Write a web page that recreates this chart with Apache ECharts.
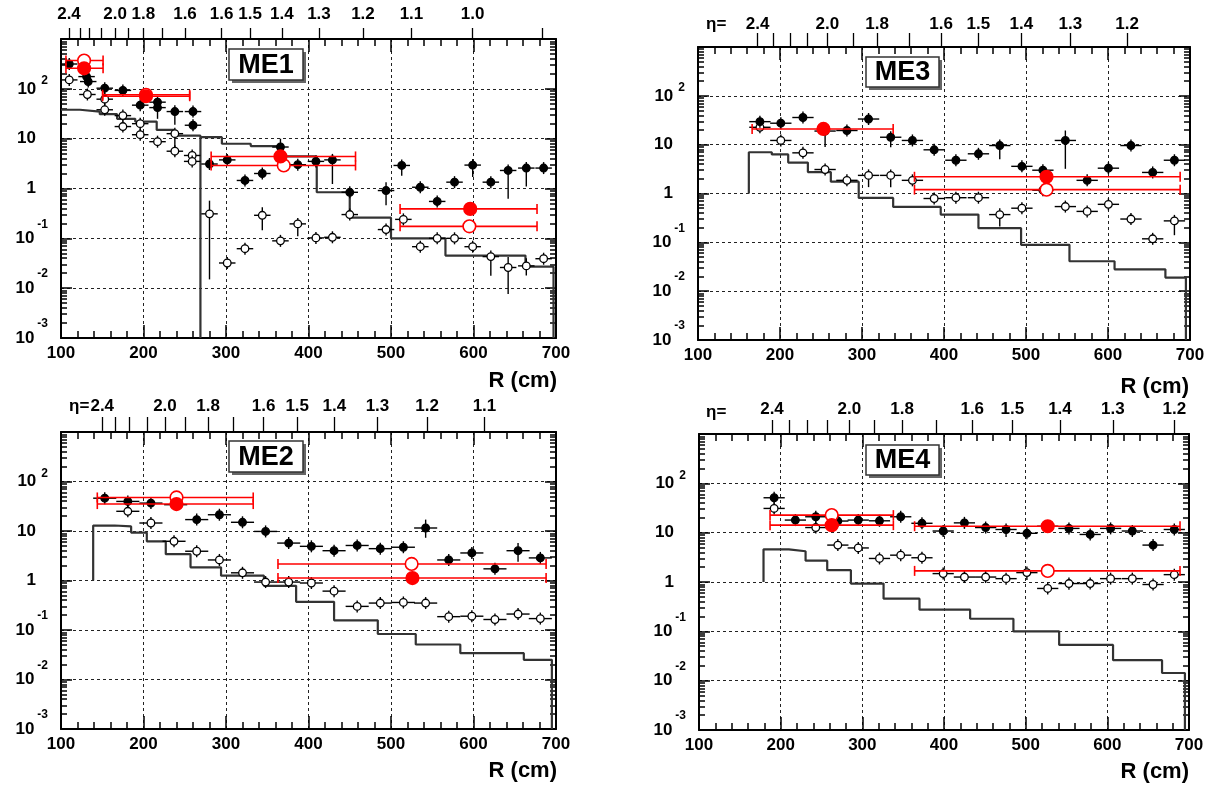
<!DOCTYPE html>
<html><head><meta charset="utf-8">
<script src="https://cdn.jsdelivr.net/npm/echarts@6/dist/echarts.min.js"></script>
<style>html,body{margin:0;padding:0;background:#fff}#c{width:1214px;height:787px}</style>
</head><body><div id="c"></div>
<script>
// ===================== DATA =====================
// points: [R (cm), value, errLow, errHigh]  (0 = no visible error beyond marker)
const xTicks = [100, 200, 300, 400, 500, 600, 700];
const yLabelValues = [0.001, 0.01, 0.1, 1, 10, 100];

// ---- ME1 ----
const ME1_black = [[110,315,0,0],[131,176,130,215],[133,140,0,0],[153,103,0,0],[175,93,0,0],[196,47,0,0],[217,54,0,0],[217,42,25,60],[238,35,19,47],[260,35,0,0],[260,18.6,0,0],[280,3.1,0,0],[301.5,3.75,0,0],[323,1.45,0,0],[344,2.0,0,0],[366,6.8,4.3,10],[387,3.0,0,0],[409,3.5,0,0],[429,3.75,1.23,4.9],[450,0.84,0,0],[494,0.91,0.46,1.34],[513,2.9,1.8,3.6],[535.5,1.06,0,0],[556,0.55,0,0],[577,1.34,0,0],[599,2.95,1.7,3.6],[621,1.34,0,0],[642,2.3,0.62,2.7],[664,2.57,1.1,3.2],[685,2.57,0,0]];
const ME1_open = [[110,151,0,0],[132,77,0,0],[153,62,0,0],[153,38,0,0],[175,29,0,0],[175,17.5,0,0],[196,20,0,0],[196,12,0,0],[217,8.7,0,0],[238,12.6,5.5,16],[238,5.6,0,0],[259,4.6,0,0],[259,3.5,0,0],[280,0.31,0.015,0.57],[301.5,0.032,0,0],[323,0.062,0,0],[344,0.29,0.145,0.42],[366,0.089,0,0],[387,0.195,0.11,0.25],[409,0.102,0,0],[429,0.105,0,0],[450,0.30,0,0],[494,0.15,0,0],[515,0.24,0,0],[535.5,0.068,0,0],[556,0.10,0,0],[577,0.10,0,0],[599,0.068,0,0],[621,0.043,0.0177,0.056],[642,0.026,0.0076,0.042],[664,0.028,0.018,0.04],[685,0.039,0,0]];
// red: [R, value, xLow, xHigh]
const ME1_redFilled = [[128,258,106,151],[203,71,150.5,256],[366,4.4,282,457],[596,0.39,511,677]];
const ME1_redOpen = [[128,370,106,151],[203,76,150.5,256],[370,2.9,282,457],[595,0.174,511,677]];
const ME1_histEdges = [100,123,147,168,190,216,237,269,269.01,295,330,366,410,450,500,566,663,697];
const ME1_histVals = [38,35,31,25,22,15,11.5,0.001,10.7,7.9,7.1,4.4,0.84,0.26,0.10,0.045,0.027];
const ME1_etaR = [109.7,123,134.3,149.3,165.5,181.6,199.8,222.8,250.3,294.6,329.3,367.8,412.7,466,524.8,599,682.8];
const ME1_etaLab = ['2.4','','','','2.0','','1.8','','1.6','1.6','1.5','1.4','1.3','1.2','1.1','1.0',''];

// ---- ME3 ----
const ME3_black = [[175.5,29.6,0,0],[201,27.5,0,0],[228,36,0,0],[255,19,9,21],[281.6,19.5,0,0],[308,33.5,0,0],[335,14.2,8.9,17.8],[361.5,12.2,0,0],[388,7.85,0,0],[414.5,4.8,0,0],[442,6.5,0,0],[468,9.6,5,12.2],[495,3.6,0,0],[520.6,3.0,0,0],[548,12.2,3.2,19.5],[574.6,1.86,0,0],[600.5,3.3,0,0],[628,9.6,0,0],[654.5,2.7,0,0],[681,4.8,0,0]];
const ME3_open = [[175.5,22.7,0,0],[201,12.2,0,0],[228,6.8,0,0],[255,3.1,0,0],[281.6,1.86,0,0],[308,2.35,1.35,2.95],[335,2.35,1.35,2.95],[361.5,1.86,0,0],[388,0.79,0,0],[414.5,0.82,0,0],[442,0.82,0,0],[468,0.37,0.21,0.5],[495,0.50,0,0],[520.6,1.17,0,0],[548,0.54,0,0],[574.6,0.43,0,0],[600.5,0.60,0,0],[628,0.30,0,0],[654.5,0.118,0,0],[681,0.275,0.14,0.34]];
const ME3_redFilled = [[253,21,166,338],[525,2.2,364,688]];
const ME3_redOpen = [[525,1.2,364,688]];
const ME3_histEdges = [162,190,210,234,262,296,338,396,442,494,553,608,670,695];
const ME3_histVals = [7.0,6.3,4.3,2.75,1.75,0.81,0.53,0.37,0.195,0.089,0.041,0.028,0.019];
const ME3_etaR = [172.6,191.6,211.9,233,257.7,288.8,318.4,358,396.4,441.8,494.4,554,623.4];
const ME3_etaLab = ['2.4','','','','2.0','','1.8','','1.6','1.5','1.4','1.3','1.2'];

// ---- ME2 ----
const ME2_black = [[153,46,0,0],[181,39.6,0,0],[209,36.6,0,0],[239,34,0,0],[264.5,17,0,0],[292,21.3,0,0],[320,15,0,0],[348,9.8,0,0],[376,5.7,0,0],[403.5,4.9,0,0],[431,4.0,0,0],[459,5.1,0,0],[487,4.4,0,0],[515,4.7,0,0],[542,11.5,7.3,17],[570,2.6,0,0],[598,3.6,0,0],[626,1.72,0,0],[654,4.0,2.4,5.7],[681,2.86,0,0]];
const ME2_open = [[181,25,0,0],[209,14.5,0,0],[237,6.2,0,0],[264.5,3.9,0,0],[292,2.6,0,0],[320,1.43,0,0],[348,0.93,0,0],[376,0.93,0,0],[403.5,0.89,0,0],[431,0.61,0,0],[459,0.30,0,0],[487,0.35,0,0],[515,0.36,0,0],[542,0.35,0,0],[570,0.186,0,0],[598,0.19,0,0],[626,0.163,0,0],[654,0.21,0,0],[681,0.17,0,0]];
const ME2_redFilled = [[240,35,144,333],[526,1.12,363,688]];
const ME2_redOpen = [[240,47.6,144,333],[525,2.16,363,688]];
const ME2_histEdges = [139,165,185,204,227,257,294,346,385,431,484,530,584,661,695];
const ME2_histVals = [12.9,12.4,9.3,6.2,3.4,1.85,1.25,0.78,0.37,0.157,0.083,0.051,0.034,0.025];
const ME2_etaR = [150,166,182.5,204,226,250.6,278.4,308.5,345.5,386.3,431.3,483.6,543.8,613.3];
const ME2_etaLab = ['2.4','','','','2.0','','1.8','','1.6','1.5','1.4','1.3','1.2','1.1'];

// ---- ME4 ----
const ME4_black = [[192,51,0,0],[218,18,0,0],[243,21,0,0],[270,17.2,0,0],[295,18,0,0],[321,17.4,0,0],[347,21,0,0],[373,15.5,0,0],[399,10.8,0,0],[425,15.8,0,0],[451,12.7,0,0],[476,11.6,8.2,14.3],[501.5,9.7,0,0],[527,13.5,0,0],[553,12.2,0,0],[579,9.2,7,11.5],[604,12.2,0,0],[630.6,10.8,0,0],[656,5.6,0,0],[682,11.6,0,0]];
const ME4_open = [[192,31,0,0],[243,12.7,0,0],[270,5.6,0,0],[295,4.9,0,0],[321,3.0,0,0],[347,3.5,0,0],[373,3.1,0,0],[399,1.48,0,0],[425,1.26,0,0],[451,1.26,0,0],[476,1.17,0,0],[501.5,1.55,1.1,1.9],[527,0.74,0,0],[553,0.93,0.7,1.2],[579,0.93,0,0],[604,1.17,0,0],[630.6,1.17,0,0],[656,0.89,0,0],[682,1.41,0,0]];
const ME4_redFilled = [[262.5,14.2,187,338],[527,13.5,364,689]];
const ME4_redOpen = [[262.5,22.7,187,338],[527,1.68,364,689]];
const ME4_histEdges = [179,210,230.5,257,286,326,370,432,485,541,607,667,695];
const ME4_histVals = [4.6,4.2,2.7,1.74,0.93,0.46,0.275,0.18,0.10,0.053,0.026,0.0143];
const ME4_etaR = [189.4,210,232.4,256.8,284,314,348.6,390,434.6,483.8,542,606.7,682];
const ME4_etaLab = ['2.4','','','','2.0','','1.8','','1.6','1.5','1.4','1.3','1.2'];

// bin half widths (cm) of the black/open points, and histogram baselines
const ME1_binHalf = 10, ME3_binHalf = 13, ME2_binHalf = 14, ME4_binHalf = 13;
const ME1_histBase = null, ME3_histBase = 1, ME2_histBase = 1, ME4_histBase = 1;

// ===================== LAYOUT =====================
const FF = "'Liberation Sans', Arial, Helvetica, sans-serif";
const panels = [
  {name:'ME1', grid:{left:61, top:39, width:495, height:299}, black:ME1_black, open:ME1_open, redF:ME1_redFilled, redO:ME1_redOpen,
   hE:ME1_histEdges, hV:ME1_histVals, hB:ME1_histBase, half:ME1_binHalf, etaR:ME1_etaR, etaLab:ME1_etaLab, etaLen:11, etaMargin:16,
   box:{x:229,y:49,w:74,h:31}, rcm:{x:557,y:381}, eta:null},
  {name:'ME3', grid:{left:698, top:47, width:492, height:293}, black:ME3_black, open:ME3_open, redF:ME3_redFilled, redO:ME3_redOpen,
   hE:ME3_histEdges, hV:ME3_histVals, hB:ME3_histBase, half:ME3_binHalf, etaR:ME3_etaR, etaLab:ME3_etaLab, etaLen:14, etaMargin:14,
   box:{x:866,y:57,w:73,h:30}, rcm:{x:1189,y:387}, eta:{x:706,y:24}},
  {name:'ME2', grid:{left:61, top:432, width:495, height:297}, black:ME2_black, open:ME2_open, redF:ME2_redFilled, redO:ME2_redOpen,
   hE:ME2_histEdges, hV:ME2_histVals, hB:ME2_histBase, half:ME2_binHalf, etaR:ME2_etaR, etaLab:ME2_etaLab, etaLen:15, etaMargin:17,
   box:{x:229,y:441,w:74,h:31}, rcm:{x:557,y:771}, eta:{x:69,y:406}},
  {name:'ME4', grid:{left:699, top:434, width:490, height:296}, black:ME4_black, open:ME4_open, redF:ME4_redFilled, redO:ME4_redOpen,
   hE:ME4_histEdges, hV:ME4_histVals, hB:ME4_histBase, half:ME4_binHalf, etaR:ME4_etaR, etaLab:ME4_etaLab, etaLen:14, etaMargin:16,
   box:{x:866,y:445,w:73,h:30}, rcm:{x:1189,y:772}, eta:{x:706,y:412}}
];

const minorY = [];
for (let k = -3; k <= 2; k++) for (let m = 2; m <= 9; m++) minorY.push(+(m * Math.pow(10, k)).toPrecision(3));
const majorY = [0.001, 0.01, 0.1, 1, 10, 100, 1000];

const lineBlack = {color:'#000', width:1.5};
const grids = [], xAxes = [], yAxes = [], series = [], graphic = [];

function yLabelFmt(v) {
  const e = Math.round(Math.log10(v));
  if (e === 0) return '{b|1}{p| }';
  if (e === 1) return '{b|10}{p| }';
  return '{b|10}' + (e < 0 ? '{n|' + e + '}' : '{s|' + e + '}');
}
const yRich = {
  b:{fontSize:17, fontWeight:'bold', fontFamily:FF, color:'#000'},
  s:{fontSize:12, fontWeight:'bold', fontFamily:FF, color:'#000', verticalAlign:'top', padding:[0,0,16,5]},
  n:{fontSize:12, fontWeight:'bold', fontFamily:FF, color:'#000', verticalAlign:'top', padding:[0,0,28,3]},
  p:{width:12}
};

function pointSeries(data, gi, half, filled) {
  return {
    type:'custom', xAxisIndex:gi*3, yAxisIndex:gi*4, data:data, encode:{x:0, y:1}, clip:true, z:3, silent:true,
    renderItem(params, api) {
      const x = api.value(0), y = api.value(1), lo = api.value(2), hi = api.value(3);
      const c = api.coord([x, y]);
      const l = api.coord([x - half, y]), r = api.coord([x + half, y]);
      let top = c[1] - 6, bot = c[1] + 6;
      if (hi > 0) top = Math.min(top, api.coord([x, hi])[1]);
      if (lo > 0) bot = Math.max(bot, api.coord([x, lo])[1]);
      return {type:'group', children:[
        {type:'line', shape:{x1:l[0], y1:c[1], x2:r[0], y2:c[1]}, style:{stroke:'#000', lineWidth:1.4}},
        {type:'line', shape:{x1:c[0], y1:top, x2:c[0], y2:bot}, style:{stroke:'#000', lineWidth:1.4}},
        {type:'circle', shape:{cx:c[0], cy:c[1], r:3.8}, style:{fill: filled ? '#000' : '#fff', stroke:'#000', lineWidth:1.3}}
      ]};
    }
  };
}
function redSeries(data, gi, filled) {
  return {
    type:'custom', xAxisIndex:gi*3, yAxisIndex:gi*4, data:data, encode:{x:0, y:1}, clip:true, z:4, silent:true,
    renderItem(params, api) {
      const x = api.value(0), y = api.value(1), xl = api.value(2), xh = api.value(3);
      const c = api.coord([x, y]);
      const l = api.coord([xl, y]), r = api.coord([xh, y]);
      const st = {stroke:'#ff0000', lineWidth:1.6};
      return {type:'group', children:[
        {type:'line', shape:{x1:l[0], y1:c[1], x2:r[0], y2:c[1]}, style:st},
        {type:'line', shape:{x1:l[0], y1:c[1]-5, x2:l[0], y2:c[1]+5}, style:st},
        {type:'line', shape:{x1:r[0], y1:c[1]-5, x2:r[0], y2:c[1]+5}, style:st},
        {type:'circle', shape:{cx:c[0], cy:c[1], r:6.3}, style:{fill: filled ? '#ff0000' : '#fff', stroke:'#ff0000', lineWidth:1.6}}
      ]};
    }
  };
}

panels.forEach((p, i) => {
  grids.push(Object.assign({}, p.grid));
  // bottom main axis
  xAxes.push({gridIndex:i, type:'value', position:'bottom', min:100, max:700, interval:100,
    axisLine:{show:true, onZero:false, lineStyle:{color:'#000', width:2}},
    axisTick:{show:true, inside:true, length:13, lineStyle:lineBlack},
    minorTick:{show:true, splitNumber:5, length:7, lineStyle:lineBlack},
    axisLabel:{show:true, margin:7, fontSize:17, fontWeight:'bold', color:'#000', fontFamily:FF},
    splitLine:{show:true, lineStyle:{color:'#222', width:1, type:[3,3]}}});
  // top mirror (frame + inside ticks)
  xAxes.push({gridIndex:i, type:'value', position:'top', min:100, max:700, interval:100,
    axisLine:{show:true, onZero:false, lineStyle:{color:'#000', width:2}},
    axisTick:{show:true, inside:true, length:13, lineStyle:lineBlack},
    minorTick:{show:true, splitNumber:5, length:7, lineStyle:lineBlack},
    axisLabel:{show:false}, splitLine:{show:false}});
  // top eta axis
  const labR = p.etaR.filter((r, k) => p.etaLab[k] !== '');
  xAxes.push({gridIndex:i, type:'value', position:'top', min:100, max:700,
    axisLine:{show:false},
    axisTick:{show:true, inside:false, length:p.etaLen, customValues:p.etaR, lineStyle:{color:'#000', width:1.3}},
    axisLabel:{show:true, customValues:labR, margin:p.etaMargin, fontSize:17, fontWeight:'bold', color:'#000', fontFamily:FF,
      formatter:(v) => { const k = p.etaR.findIndex(r => Math.abs(r - v) < 1e-6); return k >= 0 ? p.etaLab[k] : ''; }},
    splitLine:{show:false}});
  // y axes
  yAxes.push({gridIndex:i, type:'log', position:'left', min:0.001, max:1000,
    axisLine:{show:true, onZero:false, lineStyle:{color:'#000', width:2}},
    axisTick:{show:true, inside:true, length:11, customValues:majorY, lineStyle:lineBlack},
    axisLabel:{show:true, customValues:yLabelValues, margin:13, formatter:yLabelFmt, rich:yRich},
    splitLine:{show:true, lineStyle:{color:'#222', width:1, type:[3,3]}}});
  yAxes.push({gridIndex:i, type:'log', position:'left', min:0.001, max:1000,
    axisLine:{show:false}, axisTick:{show:true, inside:true, length:6, customValues:minorY, lineStyle:lineBlack},
    axisLabel:{show:false}, splitLine:{show:false}});
  yAxes.push({gridIndex:i, type:'log', position:'right', min:0.001, max:1000,
    axisLine:{show:true, onZero:false, lineStyle:{color:'#000', width:2}},
    axisTick:{show:true, inside:true, length:11, customValues:majorY, lineStyle:lineBlack},
    axisLabel:{show:false}, splitLine:{show:false}});
  yAxes.push({gridIndex:i, type:'log', position:'right', min:0.001, max:1000,
    axisLine:{show:false}, axisTick:{show:true, inside:true, length:6, customValues:minorY, lineStyle:lineBlack},
    axisLabel:{show:false}, splitLine:{show:false}});

  // histogram (step line built from bin edges / contents)
  const pts = [];
  if (p.hB !== null) pts.push([p.hE[0], p.hB]);
  for (let k = 0; k < p.hV.length; k++) { pts.push([p.hE[k], p.hV[k]]); pts.push([p.hE[k + 1], p.hV[k]]); }
  pts.push([p.hE[p.hE.length - 1], 0.001]);
  series.push({type:'line', xAxisIndex:i*3, yAxisIndex:i*4, data:pts, showSymbol:false, symbol:'none', clip:true, z:2, silent:true,
    lineStyle:{color:'#333', width:2.2}});
  series.push(pointSeries(p.open, i, p.half, false));
  series.push(pointSeries(p.black, i, p.half, true));
  series.push(redSeries(p.redO, i, false));
  series.push(redSeries(p.redF, i, true));

  // annotations
  graphic.push({type:'rect', shape:{x:p.box.x + 3, y:p.box.y + 3, width:p.box.w, height:p.box.h}, style:{fill:'#666'}, z:10});
  graphic.push({type:'rect', shape:{x:p.box.x, y:p.box.y, width:p.box.w, height:p.box.h}, style:{fill:'#fff', stroke:'#333', lineWidth:1.5}, z:11});
  graphic.push({type:'text', x:p.box.x + p.box.w / 2, y:p.box.y + p.box.h / 2 + 1, z:12,
    style:{text:p.name, font:'bold 27px ' + FF, fill:'#000', align:'center', verticalAlign:'middle', textAlign:'center', textVerticalAlign:'middle'}});
  graphic.push({type:'text', x:p.rcm.x, y:p.rcm.y, z:12,
    style:{text:'R (cm)', font:'bold 22px ' + FF, fill:'#000', align:'right', verticalAlign:'middle', textAlign:'right', textVerticalAlign:'middle'}});
  if (p.eta) graphic.push({type:'text', x:p.eta.x, y:p.eta.y, z:12,
    style:{text:'η=', font:'bold 17px ' + FF, fill:'#000', align:'left', verticalAlign:'middle', textAlign:'left', textVerticalAlign:'middle'}});
});

const chart = echarts.init(document.getElementById('c'), null, {renderer:'canvas'});
chart.setOption({
  backgroundColor:'#fff', animation:false,
  grid:grids, xAxis:xAxes, yAxis:yAxes, series:series, graphic:{elements:graphic}
});
</script></body></html>
